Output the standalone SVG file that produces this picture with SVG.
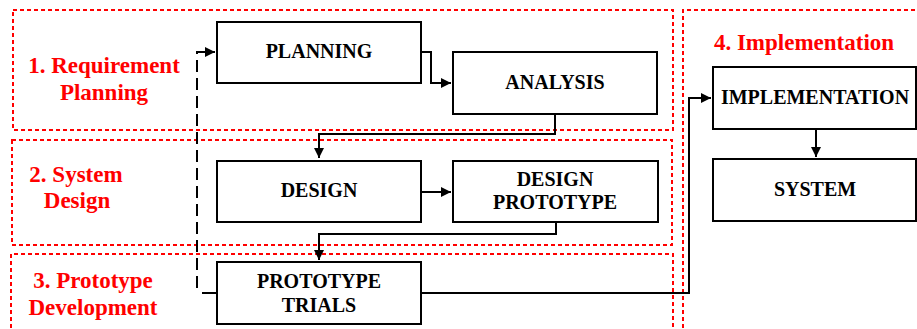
<svg xmlns="http://www.w3.org/2000/svg" width="917" height="329" viewBox="0 0 917 329">
<style>
.zone{fill:none;stroke:#ff0000;stroke-width:2;stroke-dasharray:4,3}
.zl{font-family:"Liberation Serif","Times New Roman",serif;font-weight:bold;font-size:23px;fill:#ff0000;text-anchor:middle}
.box{fill:#fff;stroke:#000;stroke-width:2}
.nt{font-family:"Liberation Serif","Times New Roman",serif;font-weight:bold;font-size:20px;fill:#000;text-anchor:middle}
.c{fill:none;stroke:#000;stroke-width:2}
</style>
<defs>
<marker id="ah" viewBox="0 0 10 10" refX="10" refY="5" markerWidth="5" markerHeight="5" orient="auto" markerUnits="strokeWidth">
<path d="M0,0 L10,5 L0,10 z" fill="#000"/>
</marker>
</defs>
<rect width="917" height="329" fill="#fff"/>
<g id="zones">
<rect class="zone" x="13" y="10" width="660" height="120"/>
<rect class="zone" x="12" y="140" width="660" height="105"/>
<path class="zone" d="M11,335 V254 H673 V335"/>
<path class="zone" d="M683,335 V10 H925"/>
<text class="zl" x="104" y="73">1. Requirement</text>
<text class="zl" x="104" y="100">Planning</text>
<text class="zl" x="76" y="182">2. System</text>
<text class="zl" x="77" y="208">Design</text>
<text class="zl" x="93" y="288">3. Prototype</text>
<text class="zl" x="93" y="315">Development</text>
<text class="zl" x="804" y="50">4. Implementation</text>
</g>
<g id="connectors">
<path class="c" d="M421,52 H431 V83 H451" marker-end="url(#ah)"/>
<path class="c" d="M555,114 V134 H319 V158" marker-end="url(#ah)"/>
<path class="c" d="M421,192 H451" marker-end="url(#ah)"/>
<path class="c" d="M556,222 V234 H319 V260" marker-end="url(#ah)"/>
<path class="c" d="M421,293 H689 V98 H711" marker-end="url(#ah)"/>
<path class="c" d="M816,129 V157" marker-end="url(#ah)"/>
<path class="c" d="M217,293 H202"/>
<path class="c" d="M197,288 V52 H215" stroke-dasharray="12,6" marker-end="url(#ah)"/>
</g>
<g id="planning"><rect class="box" x="217" y="22" width="204" height="61"/><text class="nt" x="319" y="58">PLANNING</text></g>
<g id="analysis"><rect class="box" x="453" y="52" width="204" height="62"/><text class="nt" x="555" y="89">ANALYSIS</text></g>
<g id="design"><rect class="box" x="217" y="161" width="204" height="61"/><text class="nt" x="319" y="197">DESIGN</text></g>
<g id="design-prototype"><rect class="box" x="453" y="161" width="205" height="61"/><text class="nt" x="555" y="186">DESIGN</text><text class="nt" x="555" y="209">PROTOTYPE</text></g>
<g id="prototype-trials"><rect class="box" x="217" y="262" width="204" height="62"/><text class="nt" x="319" y="288">PROTOTYPE</text><text class="nt" x="319" y="312">TRIALS</text></g>
<g id="implementation"><rect class="box" x="713" y="67" width="203" height="62"/><text class="nt" x="815" y="104">IMPLEMENTATION</text></g>
<g id="system"><rect class="box" x="713" y="159" width="203" height="62"/><text class="nt" x="815" y="196">SYSTEM</text></g>
</svg>
